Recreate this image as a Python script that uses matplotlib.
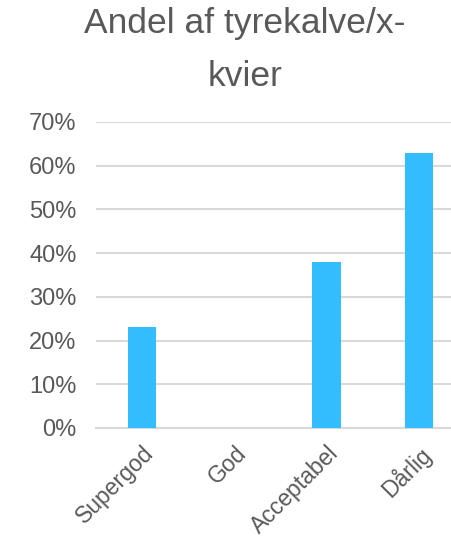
import matplotlib.pyplot as plt
from matplotlib.ticker import PercentFormatter

# data
categories = ["Supergod", "God", "Acceptabel", "Dårlig"]
shares = [0.23, 0.0, 0.38, 0.63]
y_ticks = [0, 0.1, 0.2, 0.3, 0.4, 0.5, 0.6, 0.7]

plt.rcParams["font.family"] = ["Liberation Sans", "DejaVu Sans"]
text_color = "#595959"
grid_color = "#D9D9D9"
bar_color = "#33BDFF"

fig = plt.figure(figsize=(4.52, 5.41), dpi=100)
ax = fig.add_axes([96 / 452, 113 / 541, 369 / 452, 306 / 541])

ax.bar(range(len(categories)), shares, width=0.31, color=bar_color, zorder=3)
ax.set_xlim(-0.5, len(categories) - 0.5)
ax.set_ylim(0, 0.7)
ax.set_yticks(y_ticks)
ax.yaxis.set_major_formatter(PercentFormatter(1.0, decimals=0))
ax.set_xticks(range(len(categories)))
ax.set_xticklabels(categories, rotation=45, ha="right", rotation_mode="anchor")

ax.grid(axis="y", color=grid_color, linewidth=1.5, zorder=0)
for side in ["top", "right", "left"]:
    ax.spines[side].set_visible(False)
ax.spines["bottom"].set_color(grid_color)
ax.spines["bottom"].set_linewidth(1.5)
ax.tick_params(axis="both", length=0, labelsize=17, labelcolor=text_color)
ax.tick_params(axis="y", pad=14)
ax.tick_params(axis="x", pad=10, labelsize=16.5)

fig.text(245 / 452, 1 - 7 / 541, "Andel af tyrekalve/x-\nkvier", ha="center", va="top",
         fontsize=25.5, color=text_color, linespacing=1.75)

fig.savefig("out.png", dpi=100)
